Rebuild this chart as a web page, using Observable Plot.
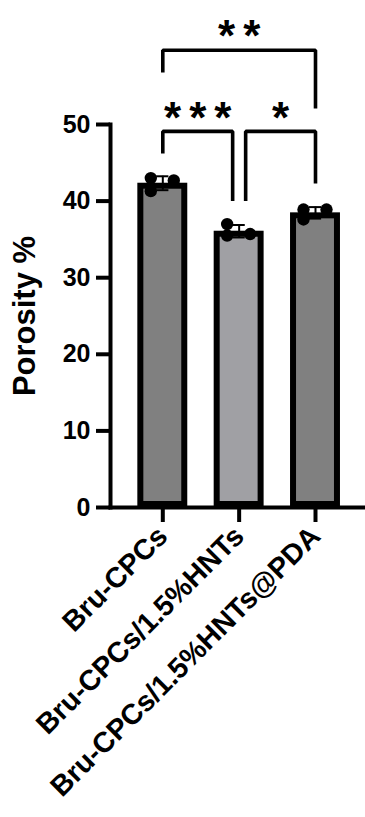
<!DOCTYPE html>
<html>
<head>
<meta charset="utf-8">
<script src="https://cdn.jsdelivr.net/npm/d3@7"></script>
<script src="https://cdn.jsdelivr.net/npm/@observablehq/plot@0.6"></script>
<style>
  html, body { margin: 0; padding: 0; background: #fff; }
  #chart svg { display: block; }
</style>
</head>
<body>
<div id="chart"></div>
<script>
// ---- data ----
const categories = ["Bru-CPCs", "Bru-CPCs/1.5%HNTs", "Bru-CPCs/1.5%HNTs@PDA"];
const replicatesBruCPCs = [43.0, 42.7, 41.3];
const replicatesHNTs = [37.0, 35.5, 35.7];
const replicatesHNTsPDA = [38.9, 38.9, 37.6];
const yTicks = [0, 10, 20, 30, 40, 50];
const yLabel = "Porosity %";
// significance brackets
const compareFrom = [0, 1, 0];
const compareTo = [1, 2, 2];
const compareLabels = ["***", "*", "**"];
const bracketLevel = [49.1, 49.1, 59.7];
const legFromEnd = [46.2, 40.0, 56.8];
const legToEnd = [40.0, 42.3, 52.1];
const labelLevel = [52.2, 52.2, 62.9];

// ---- derived tables ----
const replicates = [replicatesBruCPCs, replicatesHNTs, replicatesHNTsPDA];
const fills = ["#808080", "#a0a0a4", "#808080"];
const halfBar = 0.327;
const pxUnit = 76.35; // px per category step
const summary = replicates.map((vals, i) => ({
  i, cat: categories[i], mean: d3.mean(vals), sd: d3.deviation(vals), fill: fills[i]
}));
const dots = [];
replicates.forEach((vals, i) => {
  const sorted = [...vals].sort((a, b) => a - b);
  const mid = sorted[1];
  let usedMid = false;
  vals.forEach(v => {
    const right = !usedMid && v === mid;
    if (right) usedMid = true;
    dots.push({ x: i + (right ? 11 : -12) / pxUnit, y: v });
  });
});
const shift = 6.5 / pxUnit;
const bracketPts = [];
const starPts = [];
compareLabels.forEach((lab, k) => {
  const a = compareFrom[k], b = compareTo[k];
  let xa = a, xb = b;
  if (b - a === 1) {
    if (a === 1) xa = a + shift;
    if (b === 1) xb = b - shift;
  }
  bracketPts.push({ id: k, x: xa, y: legFromEnd[k] });
  bracketPts.push({ id: k, x: xa, y: bracketLevel[k] });
  bracketPts.push({ id: k, x: xb, y: bracketLevel[k] });
  bracketPts.push({ id: k, x: xb, y: legToEnd[k] });
  starPts.push({ x: (xa + xb) / 2, y: labelLevel[k], text: lab });
});

const font = "'Liberation Sans', Arial, sans-serif";

const chart = Plot.plot({
  width: 365,
  height: 817,
  marginTop: 124,
  marginBottom: 310,
  marginLeft: 110,
  marginRight: 0,
  style: { fontFamily: font, background: "#fff", color: "#000" },
  x: { type: "linear", domain: [(110 - 162.3) / pxUnit, (365 - 162.3) / pxUnit] },
  y: { domain: [0, 50] },
  marks: [
    Plot.rectY(summary, {
      x1: d => d.i - halfBar, x2: d => d.i + halfBar, y1: 0, y2: "mean",
      fill: "fill", stroke: "#000", strokeWidth: 6, inset: 3
    }),
    Plot.ruleX(summary, { x: "i", y1: d => d.mean - d.sd, y2: d => d.mean + d.sd, stroke: "#000", strokeWidth: 2 }),
    Plot.ruleY(summary, { y: d => d.mean + d.sd, x1: d => d.i - 0.08, x2: d => d.i + 0.08, stroke: "#000", strokeWidth: 2 }),
    Plot.ruleY(summary, { y: d => d.mean - d.sd, x1: d => d.i - 0.08, x2: d => d.i + 0.08, stroke: "#000", strokeWidth: 2 }),
    Plot.dot(dots, { x: "x", y: "y", r: 6.2, fill: "#000", stroke: "none" }),
    Plot.line(bracketPts, {
      x: "x", y: "y", z: "id", stroke: "#000", strokeWidth: 3.6,
      strokeLinejoin: "miter", strokeLinecap: "butt"
    }),
    Plot.text(starPts, {
      x: "x", y: "y", text: "text", fontSize: 44, fontWeight: "bold",
      fill: "#000", dy: 11, dx: 4, lineAnchor: "middle", textAnchor: "middle"
    }),
    Plot.frame({ anchor: "left", stroke: "#000", strokeWidth: 4 }),
    Plot.frame({ anchor: "bottom", stroke: "#000", strokeWidth: 4 }),
    Plot.axisY({
      ticks: yTicks, tickSize: 14, tickPadding: 6, strokeWidth: 4,
      fontSize: 25, fontWeight: "bold", label: null, tickFormat: d => String(d)
    }),
    Plot.axisX({
      ticks: [0, 1, 2], tickFormat: i => categories[i], tickSize: 15, tickPadding: 9,
      tickRotate: -45, strokeWidth: 4, fontSize: 28.5, fontWeight: "bold", label: null
    }),
    Plot.text([yLabel], {
      frameAnchor: "left", dx: -85, rotate: -90, fontSize: 31, fontWeight: "bold",
      fill: "#000", textAnchor: "middle", lineAnchor: "middle"
    })
  ]
});

chart.querySelectorAll("text").forEach(t => {
  if (/^\*+$/.test(t.textContent)) t.setAttribute("letter-spacing", "8px");
});
document.getElementById("chart").appendChild(chart);
</script>
</body>
</html>
